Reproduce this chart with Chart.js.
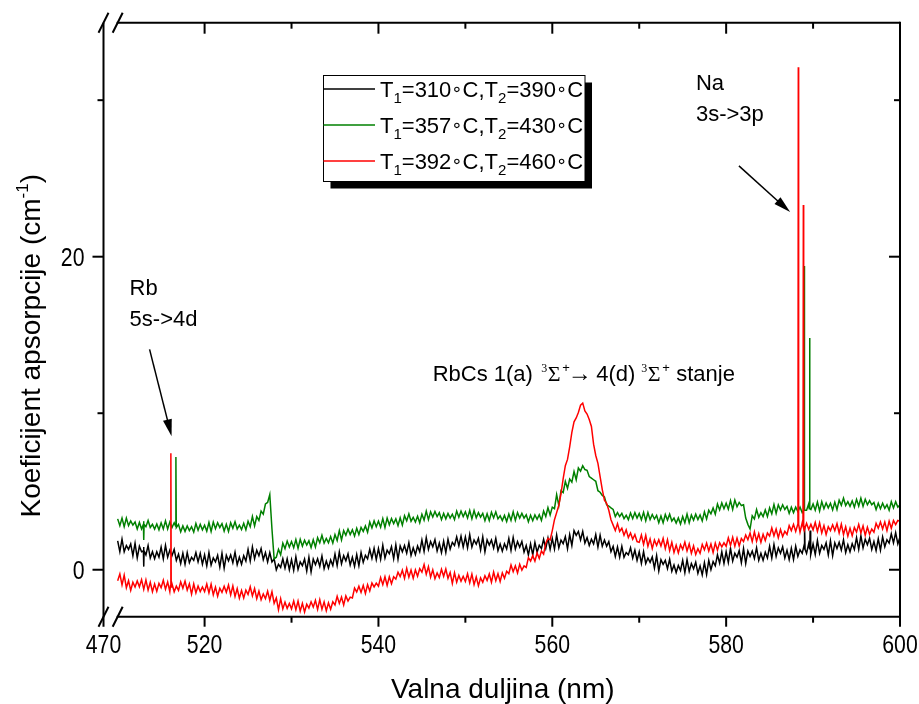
<!DOCTYPE html>
<html><head><meta charset="utf-8">
<script src="https://cdn.jsdelivr.net/npm/chart.js@4"></script>
<style>html,body{margin:0;padding:0;background:#fff;}#wrap{width:919px;height:704px;}</style>
</head><body><div id="wrap"><canvas id="c" width="919" height="704"></canvas></div>
<script>
// sampling: samples A at 510.00, 510.50 ... 600.00 nm; samples B at 510.25, 510.75 ... 599.75 nm
const gridStartA = 510, gridStartB = 510.25, gridStep = 0.5;
// absorption coefficient (cm^-1)
const blackA = [
1.85,1.95,1.55,1.65,1.7,1.5,1.45,1.55,1.15,1.15,1.45,1.55,1.25,1.3,1.0,1.05,1.1,0.8,1.1,1.05,
0.95,1.1,0.75,0.92,1.05,0.92,0.95,1.12,0.8,0.9,1.3,1.45,1.25,1.35,1.1,1.1,0.7,0.35,0.7,0.7,
0.65,0.83,0.5,0.68,0.8,0.68,0.7,0.88,0.55,0.63,1.0,1.14,0.9,1.02,0.8,0.97,1.1,0.92,1.3,1.37,
1.35,1.57,1.25,1.47,1.6,1.52,1.55,1.73,1.4,1.52,1.9,2.05,1.8,1.92,1.7,1.82,1.95,1.75,2.1,2.15,
2.1,2.25,1.9,2.01,2.1,1.91,1.9,2.01,1.65,1.66,2.0,2.06,1.8,1.81,1.55,1.65,1.75,1.57,1.95,2.02,
2.0,2.22,1.9,2.12,2.25,2.5,2.45,2.45,2.05,1.95,2.25,2.2,1.9,1.8,1.5,1.45,1.5,1.1,1.4,1.25,
1.15,1.15,0.75,0.82,0.9,0.65,0.6,0.67,0.3,0.27,0.6,0.65,0.4,0.48,0.25,0.45,0.6,0.52,0.95,1.15,
1.15,1.37,1.05,1.22,1.35,1.2,1.2,1.4,1.05,1.12,1.5,1.62,1.4,1.47,1.25,1.37,1.5,1.27,1.65,1.67,
1.65,1.87,1.55,1.72,1.85,1.72,1.75,1.92,1.6,1.67,2.05,2.17,1.95,2.02,1.8,1.97,2.1,1.92,2.3,2.37,
2.1];
const blackB = [
1.15,1.15,1.3,0.9,0.75,1.15,0.95,0.75,0.7,0.8,0.7,0.8,0.9,0.6,0.4,0.35,0.45,0.6,0.5,0.35,
0.25,0.3,0.5,0.17,0.1,0.57,0.45,0.32,0.35,0.55,0.55,0.7,0.9,0.65,0.5,0.5,0.0,0.15,0.1,0.0,
-0.04,0.02,0.26,-0.08,-0.14,0.32,0.21,0.07,0.11,0.27,0.26,0.38,0.57,0.3,0.22,0.25,0.47,0.7,0.72,0.65,
0.67,0.75,1.02,0.7,0.67,1.15,1.06,0.92,0.97,1.15,1.17,1.3,1.47,1.2,1.1,1.1,1.32,1.55,1.52,1.45,
1.4,1.45,1.63,1.27,1.14,1.58,1.38,1.22,1.19,1.33,1.23,1.32,1.44,1.13,0.95,0.95,1.12,1.35,1.37,1.3,
1.32,1.4,1.67,1.35,1.55,2.2,1.9,1.7,1.55,1.65,1.45,1.5,1.5,1.15,0.85,0.8,0.8,0.95,0.75,0.6,
0.4,0.4,0.47,0.1,-0.08,0.35,0.07,-0.1,-0.18,-0.05,-0.18,-0.1,0.06,-0.23,-0.33,-0.3,0.0,0.25,0.42,0.4,
0.47,0.55,0.8,0.45,0.4,0.85,0.72,0.6,0.6,0.75,0.75,0.85,1.05,0.75,0.65,0.65,0.85,1.05,1.05,0.95,
0.97,1.05,1.3,0.95,0.9,1.35,1.25,1.1,1.15,1.3,1.3,1.4,1.6,1.3,1.22,1.25,1.47,1.7,1.72,1.65];
const greenA = [
3.25,3.3,3.3,3.12,3.05,3.02,3.1,3.15,2.9,2.92,3.0,3.12,3.05,3.0,2.9,2.8,2.8,2.75,2.95,2.9,
2.85,3.02,3.05,3.0,2.95,2.9,3.0,3.07,2.85,2.97,3.1,3.4,3.4,3.75,4.2,4.8,0.7,1.3,1.7,1.83,
1.8,1.93,1.95,1.89,1.85,1.92,2.05,2.2,2.0,2.12,2.25,2.5,2.5,2.6,2.55,2.65,2.7,2.8,3.05,3.12,
3.1,3.27,3.3,3.27,3.25,3.32,3.45,3.57,3.35,3.42,3.55,3.75,3.7,3.72,3.65,3.6,3.6,3.55,3.75,3.75,
3.7,3.79,3.78,3.65,3.6,3.58,3.67,3.7,3.45,3.47,3.56,3.7,3.65,3.6,3.51,3.49,3.5,3.52,3.75,3.97,
4.0,4.8,5.05,5.65,5.8,6.27,6.5,6.65,6.35,5.85,5.65,4.95,4.65,4.07,3.85,3.65,3.6,3.48,3.62,3.65,
3.6,3.67,3.66,3.53,3.47,3.44,3.53,3.55,3.3,3.31,3.4,3.55,3.5,3.55,3.5,3.7,3.8,3.95,4.2,4.27,
4.25,4.42,4.45,4.3,4.15,2.9,3.45,3.85,3.65,3.82,3.95,4.17,4.15,4.15,4.05,4.0,4.0,4.0,4.2,4.22,
4.2,4.32,4.35,4.27,4.25,4.32,4.45,4.57,4.35,4.4,4.5,4.57,4.5,4.42,4.3,4.25,4.25,4.15,4.35,4.35,
4.15];
const greenB = [
2.82,2.75,2.82,2.85,2.6,2.6,2.75,2.7,2.6,2.55,2.6,2.6,2.7,2.7,2.42,2.45,2.5,2.4,2.52,2.55,
2.47,2.45,2.62,2.7,2.47,2.45,2.65,2.6,2.57,2.55,2.75,2.8,3.15,3.55,4.3,2.6,0.8,0.95,1.35,1.45,
1.41,1.37,1.51,1.58,1.42,1.45,1.72,1.7,1.72,1.7,1.87,1.9,2.2,2.25,2.15,2.25,2.45,2.4,2.67,2.75,
2.72,2.7,2.87,2.95,2.82,2.85,3.12,3.1,3.05,3.0,3.17,3.2,3.37,3.4,3.2,3.25,3.3,3.2,3.35,3.4,
3.3,3.25,3.32,3.36,3.14,3.14,3.31,3.25,3.14,3.08,3.15,3.15,3.3,3.3,3.07,3.13,3.22,3.15,3.4,3.5,
3.9,4.1,4.93,5.2,5.6,5.75,6.3,6.4,5.95,5.75,5.05,4.75,4.15,3.95,3.4,3.4,3.27,3.2,3.26,3.3,
3.19,3.13,3.2,3.24,3.01,3.0,3.17,3.11,2.98,2.92,3.0,3.0,3.17,3.2,3.12,3.25,3.57,3.55,3.82,3.9,
3.87,3.85,4.02,4.1,3.3,2.6,3.25,3.35,3.4,3.4,3.57,3.6,3.82,3.85,3.6,3.65,3.72,3.65,3.8,3.85,
3.8,3.75,3.9,3.95,3.82,3.85,4.12,4.1,4.05,4.0,4.07,4.05,4.15,4.15,3.85,3.9,3.92,3.8,3.95,4.0];
const redA = [
-0.7,-0.97,-1.15,-1.32,-1.1,-1.09,-1.25,-1.3,-1.4,-1.38,-1.15,-1.24,-1.4,-1.41,-1.32,-1.18,-1.3,-1.56,-1.48,-1.4,
-1.4,-1.48,-1.6,-1.69,-1.45,-1.44,-1.61,-1.71,-1.82,-1.81,-1.58,-1.67,-1.85,-1.92,-1.85,-1.95,-2.15,-2.55,-2.5,-2.47,
-2.5,-2.55,-2.65,-2.7,-2.45,-2.39,-2.53,-2.53,-2.62,-2.52,-2.25,-2.15,-2.25,-2.0,-1.8,-1.42,-1.45,-1.52,-1.35,-1.1,
-1.05,-0.95,-1.0,-0.9,-0.6,-0.44,-0.55,-0.48,-0.55,-0.41,-0.15,-0.29,-0.48,-0.57,-0.5,-0.42,-0.55,-0.87,-0.8,-0.73,
-0.75,-0.84,-0.95,-1.03,-0.8,-0.68,-0.8,-0.7,-0.75,-0.55,-0.25,-0.13,-0.2,-0.03,0.15,0.55,0.55,0.72,1.0,2.0,
2.5,3.65,4.85,6.65,7.85,9.45,10.05,10.65,9.95,9.15,7.3,5.95,4.45,3.8,2.85,2.95,2.65,2.55,2.35,2.25,
1.75,1.62,1.5,1.35,1.55,1.52,1.35,1.22,1.1,1.07,1.3,1.2,1.05,0.97,1.05,1.27,1.2,1.1,1.25,1.46,
1.5,1.56,1.5,1.52,1.8,1.92,1.8,1.82,1.75,1.87,2.15,2.17,2.05,2.12,2.25,2.5,2.45,2.4,2.55,2.57,
2.55,2.45,2.35,2.25,2.5,2.5,2.35,2.25,2.15,2.17,2.4,2.35,2.2,2.27,2.4,2.65,2.6,2.5,2.65,2.88,
3.1];
const redB = [
-0.27,-0.35,-0.7,-0.8,-0.72,-0.63,-0.65,-0.8,-0.91,-0.87,-0.67,-0.78,-0.9,-1.05,-0.77,-0.72,-0.9,-0.9,-1.04,-1.1,
-0.91,-0.92,-1.11,-1.18,-1.06,-0.98,-1.03,-1.2,-1.33,-1.3,-1.09,-1.2,-1.37,-1.55,-1.37,-1.4,-1.8,-1.85,-2.07,-2.15,
-2.0,-2.0,-2.15,-2.2,-2.05,-1.95,-1.91,-2.05,-2.11,-2.05,-1.7,-1.75,-1.67,-1.75,-1.17,-1.05,-1.0,-0.95,-0.85,-0.85,
-0.5,-0.45,-0.45,-0.45,-0.16,-0.03,0.09,-0.02,-0.01,0.07,0.33,0.2,-0.01,-0.2,0.03,0.05,-0.17,-0.2,-0.36,-0.42,
-0.26,-0.28,-0.46,-0.52,-0.38,-0.27,-0.15,-0.25,-0.2,-0.1,0.3,0.25,0.35,0.25,0.77,0.9,1.07,1.2,1.7,1.9,
3.2,4.12,5.82,7.05,8.77,9.7,10.52,10.15,9.6,8.02,6.8,5.12,4.25,3.2,2.5,2.45,2.2,2.05,1.95,1.8,
2.22,2.2,1.97,1.9,1.92,2.0,1.92,1.75,1.57,1.6,1.77,1.65,1.52,1.35,1.62,1.7,1.65,1.7,1.73,1.72,
2.04,2.08,2.02,2.0,2.22,2.35,2.42,2.3,2.27,2.35,2.67,2.6,2.57,2.45,2.82,2.9,2.92,3.0,2.97,2.9,
3.02,3.0,2.82,2.75,2.87,2.95,2.92,2.75,2.65,2.7,2.9,2.8,2.72,2.6,2.97,3.05,3.05,3.1,3.15,3.15];
// narrow atomic lines and artefacts (wavelength nm, value)
const blackSpikeWl  = [512.96, 513.0, 513.04, 589.0, 589.04, 589.08, 589.62, 589.66, 589.7];
const blackSpikeVal = [1.2, 0.2, 1.2, 1.3, 2.8, 1.3, 1.3, 2.5, 1.3];
const greenSpikeWl  = [512.96, 513.0, 513.04, 516.66, 516.7, 516.74, 588.94, 588.98, 589.02, 589.56, 589.6, 589.64];
const greenSpikeVal = [2.9, 1.9, 2.9, 2.8, 7.2, 2.8, 3.8, 19.4, 3.8, 3.9, 14.8, 3.9];
const redSpikeWl    = [516.08, 516.12, 516.16, 588.26, 588.3, 588.34, 588.84, 588.88, 588.92];
const redSpikeVal   = [-1.0, 7.45, -1.1, 2.8, 32.1, 2.9, 2.8, 23.3, 2.9];

const xMin = 508.37, xMax = 600, yMin = -3, yMax = 34.95;
const xTicksMajor = [520, 540, 560, 580, 600];
const xTicksMinor = [530, 550, 570, 590];
const xBreakLabel = '470';
const yTicksMajor = [0, 20];
const yTicksMinor = [10, 30];
const t1 = [310, 357, 392];
const t2 = [390, 430, 460];
const colors = ['#000000', '#008000', '#ff0000'];

const SANS = '"Liberation Sans", Arial, sans-serif';
const SERIF = '"Liberation Serif", "Times New Roman", serif';

function build(a, b, sw, sv) {
  const pts = a.map((v, i) => ({x: gridStartA + i * gridStep, y: v}));
  b.forEach((v, i) => pts.push({x: gridStartB + i * gridStep, y: v}));
  sw.forEach((w, i) => pts.push({x: w, y: sv[i]}));
  pts.sort((p, q) => p.x - q.x);
  return pts;
}

function drawParts(ctx, x, base, parts) {
  for (const p of parts) {
    ctx.font = p.f;
    ctx.fillText(p.t, x, base + (p.dy || 0));
    x += ctx.measureText(p.t).width + (p.gap || 0);
  }
  return x;
}

function arrow(ctx, x1, y1, x2, y2) {
  const a = Math.atan2(y2 - y1, x2 - x1), L = 17, W = 4.5;
  const bx = x2 - L * Math.cos(a), by = y2 - L * Math.sin(a);
  ctx.lineWidth = 1.5;
  ctx.beginPath(); ctx.moveTo(x1, y1); ctx.lineTo(bx + 3 * Math.cos(a), by + 3 * Math.sin(a)); ctx.stroke();
  ctx.beginPath(); ctx.moveTo(x2, y2);
  ctx.lineTo(bx - W * Math.sin(a), by + W * Math.cos(a));
  ctx.lineTo(bx + W * Math.sin(a), by - W * Math.cos(a));
  ctx.closePath(); ctx.fill();
}

function tickText(ctx, s, x, y, align) {
  ctx.save();
  ctx.font = '25px ' + SANS;
  ctx.translate(x, y); ctx.scale(0.85, 1);
  ctx.textAlign = align; ctx.textBaseline = 'alphabetic';
  ctx.fillText(s, 0, 0);
  ctx.restore();
}

const frame = {
  id: 'frame',
  afterDraw(chart) {
    const {ctx, chartArea: A, scales: {x, y}} = chart;
    const X = v => x.getPixelForValue(v), Y = v => y.getPixelForValue(v);
    ctx.save();
    ctx.strokeStyle = '#000'; ctx.fillStyle = '#000'; ctx.lineWidth = 2;
    const seg = (a, b, c, d) => { ctx.beginPath(); ctx.moveTo(a, b); ctx.lineTo(c, d); ctx.stroke(); };
    const xs = X(gridStartA);
    // frame
    seg(A.left, A.top, A.left, A.bottom + 10);
    seg(A.right, A.top - 1, A.right, A.bottom + 1);
    seg(xs - 1, A.top, A.right, A.top);
    seg(xs - 1, A.bottom, A.right, A.bottom);
    // axis break marks
    for (const yy of [A.top, A.bottom]) {
      seg(A.left - 5, yy + 10, A.left + 5, yy - 10);
      seg(xs - 5, yy + 10, xs + 5, yy - 10);
    }
    // ticks
    for (const v of xTicksMajor) { seg(X(v), A.bottom, X(v), A.bottom + 10); seg(X(v), A.top, X(v), A.top + 11); }
    for (const v of xTicksMinor) { seg(X(v), A.bottom, X(v), A.bottom + 6); seg(X(v), A.top, X(v), A.top + 6); }
    for (const v of yTicksMajor) { seg(A.left - 11, Y(v), A.left, Y(v)); seg(A.right - 11, Y(v), A.right, Y(v)); }
    for (const v of yTicksMinor) { seg(A.left - 6, Y(v), A.left, Y(v)); seg(A.right - 6, Y(v), A.right, Y(v)); }
    // tick labels
    for (const v of xTicksMajor) tickText(ctx, String(v), X(v), A.bottom + 36, 'center');
    tickText(ctx, xBreakLabel, A.left, A.bottom + 36, 'center');
    for (const v of yTicksMajor) tickText(ctx, String(v), A.left - 19, Y(v) + 9, 'right');
    // axis titles
    ctx.textAlign = 'center'; ctx.textBaseline = 'alphabetic';
    ctx.font = '28px ' + SANS;
    ctx.fillText('Valna duljina (nm)', (A.left + A.right) / 2 + 1, 698);
    ctx.save();
    ctx.translate(40, (A.top + A.bottom) / 2 + 26);
    ctx.rotate(-Math.PI / 2);
    ctx.textAlign = 'left';
    const yt = [{t: 'Koeficijent apsorpcije (cm', f: '28px ' + SANS}, {t: '-1', f: '17px ' + SANS, dy: -12}, {t: ')', f: '28px ' + SANS}];
    let w = 0; for (const p of yt) { ctx.font = p.f; w += ctx.measureText(p.t).width; }
    drawParts(ctx, -w / 2, 0, yt);
    ctx.restore();
    // annotations
    ctx.textAlign = 'left';
    ctx.font = '22px ' + SANS;
    ctx.fillText('Rb', X(511.37), Y(17.56));
    ctx.fillText('5s->4d', X(511.37), Y(15.58));
    ctx.fillText('Na', X(576.52), Y(30.65));
    ctx.fillText('3s->3p', X(576.52), Y(28.67));
    arrow(ctx, X(513.67), Y(14.08), X(516.2), Y(8.53));
    arrow(ctx, X(581.47), Y(25.8), X(587.36), Y(22.85));
    const x0 = X(546.24), b0 = Y(12.06);
    const S = '22px ' + SANS, SUP = '12px ' + SERIF, SUPS = '13px ' + SANS, G = '22px ' + SERIF, AR = '24px ' + SANS;
    const pieces = [
      ['RbCs 1(a)', S, 0, 0], ['3', SUP, 108.5, -9], ['\u03A3', G, 115, 0], ['+', SUPS, 129.5, -9],
      ['\u2192', AR, 135, 0], ['4(d)', S, 163.5, 0], ['3', SUP, 208.5, -9], ['\u03A3', G, 215, 0],
      ['+', SUPS, 229.5, -9], ['stanje', S, 243.5, 0]
    ];
    for (const [t, f, dx, dy] of pieces) { ctx.font = f; ctx.fillText(t, x0 + dx, b0 + dy); }
    // legend
    const lx = 323.5, ly = 75.5, lw = 261.5, lh = 106;
    ctx.fillStyle = '#000'; ctx.fillRect(lx + 7, ly + 7, lw, lh);
    ctx.fillStyle = '#fff'; ctx.fillRect(lx, ly, lw, lh);
    ctx.lineWidth = 1; ctx.strokeStyle = '#000'; ctx.strokeRect(lx, ly, lw, lh);
    const rows = [89, 125, 161];
    for (let i = 0; i < 3; i++) {
      ctx.strokeStyle = colors[i]; ctx.lineWidth = 1.3;
      seg(lx, rows[i], 375, rows[i]);
      ctx.fillStyle = '#000';
      const M = '22px ' + SANS, B = '15px ' + SANS, D = '18px "DejaVu Sans", sans-serif';
      drawParts(ctx, 380, rows[i] + 8, [
        {t: 'T', f: M}, {t: '1', f: B, dy: 6}, {t: '=' + t1[i], f: M}, {t: '\u2218', f: D, dy: -2}, {t: 'C,T', f: M},
        {t: '2', f: B, dy: 6}, {t: '=' + t2[i], f: M}, {t: '\u2218', f: D, dy: -2}, {t: 'C', f: M}
      ]);
    }
    ctx.restore();
  }
};

new Chart(document.getElementById('c').getContext('2d'), {
  type: 'line',
  data: {
    datasets: [
      {label: 'T1=310\u00B0C,T2=390\u00B0C', data: build(blackA, blackB, blackSpikeWl, blackSpikeVal), borderColor: colors[0], order: 3},
      {label: 'T1=357\u00B0C,T2=430\u00B0C', data: build(greenA, greenB, greenSpikeWl, greenSpikeVal), borderColor: colors[1], order: 2},
      {label: 'T1=392\u00B0C,T2=460\u00B0C', data: build(redA, redB, redSpikeWl, redSpikeVal), borderColor: colors[2], order: 1}
    ]
  },
  options: {
    responsive: false, animation: false,
    layout: {padding: {left: 103.5, right: 19, top: 22.7, bottom: 87.3}},
    elements: {line: {tension: 0, borderWidth: 1.5}, point: {radius: 0}},
    plugins: {legend: {display: false}, tooltip: {enabled: false}},
    scales: {
      x: {type: 'linear', min: xMin, max: xMax, display: false},
      y: {type: 'linear', min: yMin, max: yMax, display: false}
    }
  },
  plugins: [frame]
});
</script></body></html>
